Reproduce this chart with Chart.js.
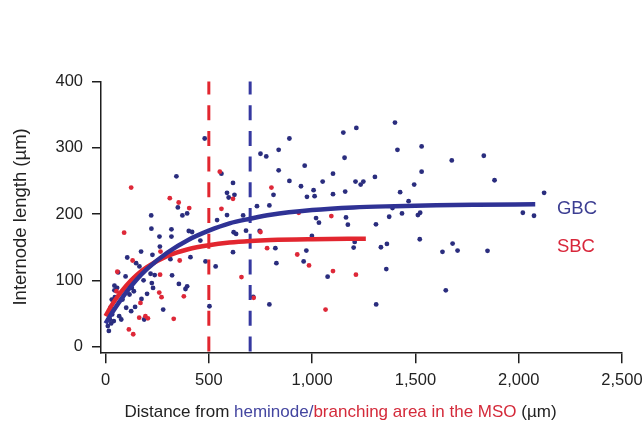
<!DOCTYPE html>
<html><head><meta charset="utf-8">
<script src="https://cdn.jsdelivr.net/npm/chart.js@4.4.1/dist/chart.umd.min.js"></script>
<style>html,body{margin:0;padding:0;background:#fff}</style>
</head><body>
<canvas id="c" width="644" height="423"></canvas>
<script>
// ---- data ----
const gbcDots = [
[480,314],[343,257],[561,261],[617,247],[750,291],[778,287],[838,297],[838,266],[890,314],[890,250],[813,229],[588,232],[596,225],[624,229],[350,210],[733,212],[793,213],
[372,198],[395,201],[221,198],[222,178],[261,166],[319,177],[319,166],[403,174.5],[419,173],[263,151],[172,143.5],[105,134.5],[227,138.6],[314,132],[411,135],[148,126],[164,121],[61,112],[97,106],[137,103],[218,110],[238,108],[322,107.6],[43,92],[56,88.7],[43,85],[113,93.6],[127,88.6],[137,83.6],[116,78.7],[184,100],[224,96],[230,88.6],[201,79.7],[174,72],[355,94.6],[395,91],[387,87],[30,71],[45,74.6],[82,71],[100,58.7],[124,53.6],[143,60],[279,56],[187,41],[66,46],[76,41],[24,58.7],[16,51],[32,48.7],[21,41],[40,38.6],[11,31],[16,23.7],[27,35],[503,61],[484,128.6],[533,121],[459,160],[540,191],[620,172.6],[632,170],[617,142.6],[680,175],[715,75],[793,63.7],[822,148.6],[827,126],[746,174.5],[666,198],[588,198.5],
[1151,323],[1214,330],[1401,338],[1413,297],[1530,302],[1676,281],[1157,285],[964,273],[1101,261],[1530,264],[946,242],[1051,249],[1210,249],[1248,249],[1235,244.5],[1304,256],[1007,236],[1012,227],[975,226],[1101,230],[1160,234],[1426,233],[1494,244.5],[1467,219.5],[1389,209],[1435,201],[1512,198.5],[1523,202],[1373,196],[1164,195],[1019,194],
[1033,187],[1173,184],[1309,184.5],[999,167],[1206,158],[1201,149.5],[1333,150],[1362,155],[1521,162],[1680,155.5],[1631,143],[1704,145],[972,145],[959,128.6],[1075,105.6],[1359,117],[1647,85],[1310,63.7],
[1831,288],[1883,251],[2123,232],[2020,202],[2074,197.5],[1849,144.6]
];
const sbcDots = [
[124,240],[553,264],[803,240],[617,223],[311,224],[354,217.5],[405,209],[561,208],[90,172],[266,143.5],[131,130],[359,130],[57,113],[264,108.6],[53,83.6],[260,81.6],[271,74.6],[169,66],[379,76],[163,43.7],[193,46],[205,42.7],[330,42],[113,26],[134,18.7],[658,105],[717,73.7],[782,148.6],[750,173],[1093,197],[935,202],[928,139],[985,122.5],[1101,114],[1212,108.6],[1065,56]
];
const gbcFitX = [0,25,50,100,150,200,300,400,500,600,700,800,1000,1200,1400,1600,1800,2080];
const gbcFitY = [35,48,60,82,101,117,142,161,175,186,193,199,206,210,212,213.5,214.2,214.7];
const sbcFitX = [0,25,50,100,150,200,300,400,500,600,700,800,1000,1260];
const sbcFitY = [46,60,72,92,108,120,137,147,153,157,159.5,161,162.2,162.8];
const gbcCutoff = 700, sbcCutoff = 500;
const dashSpan = [403, -8.5];
const xTicks = [0,500,1000,1500,2000,2500];
const yTicks = [0,100,200,300,400];
const seriesLabels = ['GBC','SBC'];

// ---- styling ----
const BLUE_DOT = '#2a2d7e', RED_DOT = '#de2838';
const BLUE_LINE = '#2f3295', RED_LINE = '#e2262f';
const FONT = '"Liberation Sans", Arial, Helvetica, sans-serif';
const AXIS = '#1e1e1e';

const toPts = (xs, ys) => xs.map((x, i) => ({x, y: ys[i]}));
const pairs = a => a.map(p => ({x: p[0], y: p[1]}));

const overlay = {
  id: 'overlay',
  afterDraw(chart) {
    const ctx = chart.ctx, xs = chart.scales.x, ys = chart.scales.y;
    ctx.save();
    ctx.font = '18.5px ' + FONT;
    ctx.textBaseline = 'middle';
    ctx.textAlign = 'left';
    ctx.fillStyle = '#3c3e92';
    ctx.fillText(seriesLabels[0], xs.getPixelForValue(2185), ys.getPixelForValue(207.5));
    ctx.fillStyle = '#d8263a';
    ctx.fillText(seriesLabels[1], xs.getPixelForValue(2185), ys.getPixelForValue(150));
    const parts = [
      ['Distance from ', '#222'],
      ['heminode/', '#4446a0'],
      ['branching area in the MSO', '#d42a3a'],
      [' (\u00b5m)', '#222']
    ];
    ctx.font = '17px ' + FONT;
    let total = 0;
    parts.forEach(p => total += ctx.measureText(p[0]).width);
    let x = 340.5 - total / 2;
    const y = 412;
    parts.forEach(p => {
      ctx.fillStyle = p[1];
      ctx.fillText(p[0], x, y);
      x += ctx.measureText(p[0]).width;
    });
    ctx.restore();
  }
};

new Chart(document.getElementById('c'), {
  type: 'scatter',
  data: {
    datasets: [
      {label: 'GBC fit', type: 'line', data: toPts(gbcFitX, gbcFitY), borderColor: BLUE_LINE, borderWidth: 4.5, pointRadius: 0, cubicInterpolationMode: 'monotone', fill: false, order: 1},
      {label: 'SBC fit', type: 'line', data: toPts(sbcFitX, sbcFitY), borderColor: RED_LINE, borderWidth: 4.5, pointRadius: 0, cubicInterpolationMode: 'monotone', fill: false, order: 2},
      {label: 'SBC cut', type: 'line', data: [{x: sbcCutoff, y: dashSpan[0]}, {x: sbcCutoff, y: dashSpan[1]}], borderColor: RED_LINE, borderWidth: 3, borderDash: [15, 10.7], pointRadius: 0, order: 3},
      {label: 'GBC cut', type: 'line', data: [{x: gbcCutoff, y: dashSpan[0]}, {x: gbcCutoff, y: dashSpan[1]}], borderColor: '#3538a0', borderWidth: 3, borderDash: [15, 10.7], pointRadius: 0, order: 3},
      {label: 'SBC', data: pairs(sbcDots), backgroundColor: RED_DOT, borderWidth: 0, pointRadius: 2.4, order: 4},
      {label: 'GBC', data: pairs(gbcDots), backgroundColor: BLUE_DOT, borderWidth: 0, pointRadius: 2.4, order: 5}
    ]
  },
  options: {
    responsive: false,
    animation: false,
    events: [],
    layout: {padding: {top: 81.5, right: 22, bottom: 0, left: 0}},
    plugins: {legend: {display: false}, tooltip: {enabled: false}},
    scales: {
      x: {
        type: 'linear', min: -22, max: 2500,
        afterBuildTicks: s => { s.ticks = xTicks.map(v => ({value: v})); },
        afterFit: s => { s.height = 423 - 352.3; s.paddingRight = 10; s.paddingLeft = 0; },
        grid: {drawOnChartArea: false, drawTicks: true, tickLength: 11, color: AXIS, lineWidth: 1.5},
        border: {display: true, color: AXIS, width: 1.5},
        ticks: {color: '#222', font: {family: FONT, size: 16.5}, padding: 7, maxRotation: 0,
                callback: v => v.toLocaleString('en-US')},
        title: {display: false}
      },
      y: {
        type: 'linear', min: -8.5, max: 400,
        afterBuildTicks: s => { s.ticks = yTicks.map(v => ({value: v})); },
        afterFit: s => { s.width = 101; },
        grid: {drawOnChartArea: false, drawTicks: true, tickLength: 9, color: AXIS, lineWidth: 1.5},
        border: {display: true, color: AXIS, width: 1.5},
        ticks: {color: '#222', font: {family: FONT, size: 16.5}, padding: 9},
        title: {display: true, text: 'Internode length (\u00b5m)', color: '#222', font: {family: FONT, size: 18.5}, padding: {top: 10, bottom: 0}}
      }
    }
  },
  plugins: [overlay]
});
</script>
</body></html>
